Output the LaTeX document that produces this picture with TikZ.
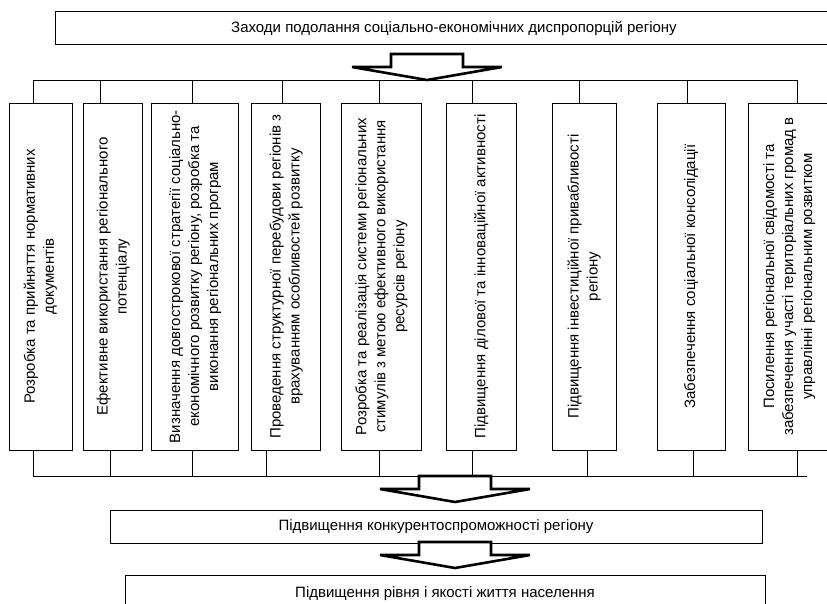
\documentclass[tikz,border=0pt]{standalone}
\usepackage{fontspec}
\setmainfont{Liberation Sans}
\usepackage{graphicx}
\usepackage{tikz}
\usetikzlibrary{positioning}

% hollow block arrow, tip at the given coordinate
\newcommand{\fatarrow}[1]{%
  \draw[fatarrow] (#1) -- ++(-75,-13) -- ++(39,0) -- ++(0,-13) -- ++(72,0)
    -- ++(0,13) -- ++(39,0) -- cycle;}
% text turned to read upwards
\newcommand{\vtext}[1]{\rotatebox{90}{\begin{tabular}{@{}c@{}}#1\end{tabular}}}

\begin{document}
\begin{tikzpicture}[x=1pt,y=-1pt,line width=0.9pt,
  font=\fontsize{15}{19}\selectfont,
  resultbox/.style={draw,rectangle,minimum height=33pt,inner sep=2pt},
  measurebox/.style={draw,rectangle,minimum height=347pt,inner sep=2pt},
  fatarrow/.style={draw=black,fill=white,line width=2.6pt,line join=miter}]
\useasboundingbox (0,0) rectangle (827,603);
\clip (0,0) rectangle (827,603);

\node[resultbox,minimum width=798pt] (goal) at (454,28)
  {Заходи подолання соціально-економічних диспропорцій регіону};

\node[measurebox,minimum width=63pt] (b1) at (40.5,276.5)
  {\vtext{Розробка та прийняття нормативних\\документів}};
\node[measurebox,minimum width=59pt] (b2) [right=11pt of b1]
  {\vtext{Ефективне використання регіонального\\потенціалу}};
\node[measurebox,minimum width=87pt] (b3) [right=8pt of b2]
  {\vtext{Визначення довгострокової стратегії соціально-\\економічного розвитку регіону, розробка та\\виконання регіональних програм}};
\node[measurebox,minimum width=69pt] (b4) [right=12pt of b3]
  {\vtext{Проведення структурної перебудови регіонів з\\врахуванням особливостей розвитку}};
\node[measurebox,minimum width=80pt] (b5) [right=20pt of b4]
  {\vtext{Розробка та реалізація системи регіональних\\стимулів з метою ефективного використання\\ресурсів регіону}};
\node[measurebox,minimum width=70pt] (b6) [right=24pt of b5]
  {\vtext{Підвищення ділової та інноваційної активності}};
\node[measurebox,minimum width=64pt] (b7) [right=35pt of b6]
  {\vtext{Підвищення інвестиційної привабливості\\регіону}};
\node[measurebox,minimum width=68pt] (b8) [right=40pt of b7]
  {\vtext{Забезпечення соціальної консолідації}};
\node[measurebox,minimum width=82pt] (b9) [right=22pt of b8]
  {\vtext{Посилення регіональної свідомості та\\забезпечення участі територіальних громад в\\управлінні регіональним розвитком}};

\node[resultbox,minimum width=652pt] (comp) at (436,527)
  {Підвищення конкурентоспроможності регіону};
\node[resultbox,minimum width=640pt,minimum height=37pt] (life) at (445,593.5)
  {Підвищення рівня і якості життя населення};

% buses to the measures
\foreach \i/\tx/\bx in {1/33/33,2/100/110,3/192/192,4/282/266,5/379/379,
                       6/472/472,7/579/587,8/687/693,9/797/797}{
  \coordinate (t\i) at (\tx,80);
  \coordinate (u\i) at (\bx,476);
  \draw (t\i) -- (t\i |- b\i.north);
  \draw (b\i.south -| u\i) -- (u\i);
}
\coordinate (uend) at (807,476);
\draw (t1) -- (t9);
\draw (u1) -- (uend);

\coordinate (a1) at (427,80);
\coordinate (a2) at (455,502);
\coordinate (a3) at (455,568);
\fatarrow{a1}
\fatarrow{a2}
\fatarrow{a3}
\end{tikzpicture}
\end{document}
